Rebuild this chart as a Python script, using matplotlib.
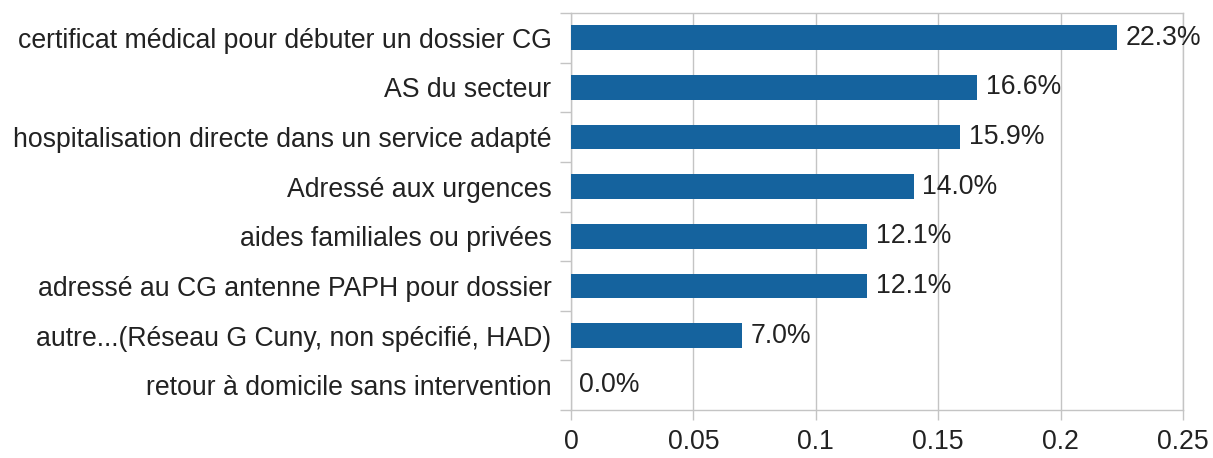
import matplotlib.pyplot as plt
from matplotlib.ticker import FixedLocator

categories = [
    "certificat médical pour débuter un dossier CG",
    "AS du secteur",
    "hospitalisation directe dans un service adapté",
    "Adressé aux urgences",
    "aides familiales ou privées",
    "adressé au CG antenne PAPH pour dossier",
    "autre...(Réseau G Cuny, non spécifié, HAD)",
    "retour à domicile sans intervention",
]
shares = [0.223, 0.166, 0.159, 0.140, 0.121, 0.121, 0.070, 0.000]
xticks = [0, 0.05, 0.1, 0.15, 0.2, 0.25]
xtick_labels = ["0", "0.05", "0.1", "0.15", "0.2", "0.25"]

plt.rcParams['font.family'] = ['Liberation Sans', 'DejaVu Sans']
grey = '#c4c4c4'
ink = '#222222'
fsize = 19.2

fig = plt.figure(figsize=(12.13, 4.58), dpi=100)
ax = fig.add_axes([571 / 1213, 48 / 458, 612 / 1213, 397 / 458])

ypos = list(range(len(categories)))
ax.barh(ypos, shares, height=0.5, color='#15639e', zorder=3)
for y, v in zip(ypos, shares):
    ax.annotate(f"{v * 100:.1f}%", (v, y), xytext=(6, 0), textcoords='offset points',
                va='center', ha='left', fontsize=fsize, color=ink, zorder=4)

ax.set_xlim(0, 0.25)
ax.set_ylim(len(categories) - 0.5, -0.5)

ax.set_xticks(xticks)
ax.set_xticklabels(xtick_labels)
ax.set_yticks(ypos)
ax.set_yticklabels(categories)
ax.yaxis.set_minor_locator(FixedLocator([i - 0.5 for i in range(len(categories) + 1)]))

ax.tick_params(axis='y', which='major', length=0, pad=14, labelsize=fsize, labelcolor=ink)
ax.tick_params(axis='y', which='minor', length=8, width=1, color=grey)
ax.tick_params(axis='x', which='major', length=7, width=1, color=grey, pad=7,
               labelsize=fsize, labelcolor=ink)

ax.grid(axis='x', color=grey, linewidth=1, zorder=0)
for side in ['top', 'bottom', 'left', 'right']:
    ax.spines[side].set_color(grey)
    ax.spines[side].set_linewidth(1)

fig.savefig('out.png', dpi=100)
